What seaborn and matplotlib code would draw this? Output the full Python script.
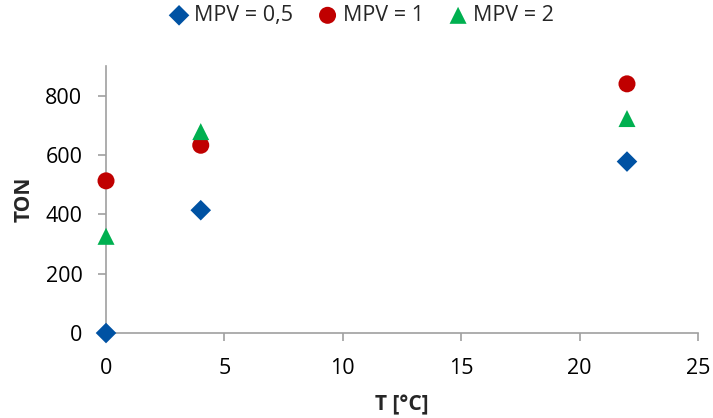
import matplotlib
matplotlib.use("Agg")
import matplotlib.pyplot as plt
import seaborn as sns
import pandas as pd

T = [0, 4, 22]
ton_05 = [0, 414, 578]
ton_1 = [513, 633, 840]
ton_2 = [326, 679, 723]
series = ["MPV = 0,5", "MPV = 1", "MPV = 2"]
colors = ["#0052A3", "#C00000", "#00B050"]
markers = ["D", "o", "^"]

rows = []
for name, vals in zip(series, [ton_05, ton_1, ton_2]):
    for t, v in zip(T, vals):
        rows.append({"T": t, "TON": v, "MPV": name})
df = pd.DataFrame(rows)

sns.set_style("white")
plt.rcParams["font.family"] = ["Open Sans", "DejaVu Sans"]

fig = plt.figure(figsize=(7.13, 4.18), dpi=100)
ax = fig.add_axes([0.1487, 0.2033, 0.8303, 0.6387])

sizes = {"MPV = 0,5": 110, "MPV = 1": 150, "MPV = 2": 150}
for name, c, m in zip(series, colors, markers):
    sub = df[df["MPV"] == name]
    sns.scatterplot(data=sub, x="T", y="TON", color=c, marker=m, s=sizes[name],
                    edgecolor="none", linewidth=0, ax=ax, label=name, clip_on=False, zorder=3)

ax.set_xlim(0, 25)
ax.set_ylim(0, 900)
ax.set_xticks([0, 5, 10, 15, 20, 25])
ax.set_yticks([0, 200, 400, 600, 800])
for s in ["top", "right"]:
    ax.spines[s].set_visible(False)
for s in ["left", "bottom"]:
    ax.spines[s].set_color("#A0A0A0")
    ax.spines[s].set_linewidth(1.2)
ax.tick_params(axis="both", which="major", direction="out", length=5.5, width=1.2,
               color="#A0A0A0", labelsize=15.5, labelcolor="black", bottom=True, left=True)
ax.tick_params(axis="x", pad=12.5)
ax.tick_params(axis="y", pad=11.5)
ax.set_xlabel("T [°C]", fontsize=15, fontweight="bold", labelpad=11)
ax.set_ylabel("TON", fontsize=15, fontweight="bold", labelpad=8)

leg = ax.legend(loc="center", ncol=3, frameon=False, fontsize=15.5, handletextpad=0.1,
                columnspacing=1.0, markerscale=1.0, handlelength=1.2)
leg.set_bbox_to_anchor((0.505, 0.963), transform=fig.transFigure)

fig.savefig("out.png", dpi=100)
